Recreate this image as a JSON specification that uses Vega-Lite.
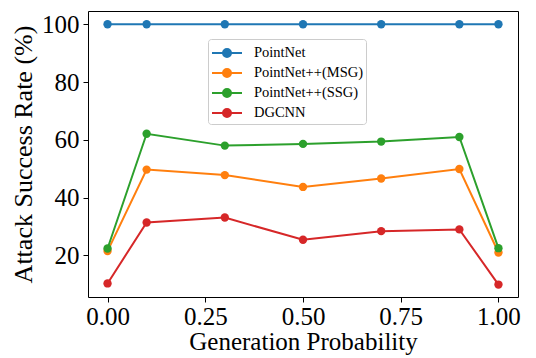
{
  "$schema": "https://vega.github.io/schema/vega-lite/v6.json",
  "width": 430,
  "height": 286,
  "autosize": "none",
  "padding": {"left": 88, "top": 11, "right": 18, "bottom": 61},
  "background": "white",
  "config": {
    "font": "Liberation Serif",
    "view": {"stroke": "black", "strokeWidth": 1},
    "axis": {
      "grid": false,
      "domain": false,
      "tickColor": "black",
      "tickSize": 5,
      "labelColor": "black",
      "titleColor": "black",
      "labelFont": "Liberation Serif",
      "titleFont": "Liberation Serif",
      "labelFontSize": 25,
      "titleFontSize": 25,
      "titleFontWeight": "normal"
    }
  },
  "data": {
    "values": [
      {"p": 0.0, "model": "PointNet", "rate": 100},
      {"p": 0.1, "model": "PointNet", "rate": 100},
      {"p": 0.3, "model": "PointNet", "rate": 100},
      {"p": 0.5, "model": "PointNet", "rate": 100},
      {"p": 0.7, "model": "PointNet", "rate": 100},
      {"p": 0.9, "model": "PointNet", "rate": 100},
      {"p": 1.0, "model": "PointNet", "rate": 100},
      {"p": 0.0, "model": "PointNet++(MSG)", "rate": 21.5},
      {"p": 0.1, "model": "PointNet++(MSG)", "rate": 49.7},
      {"p": 0.3, "model": "PointNet++(MSG)", "rate": 47.8},
      {"p": 0.5, "model": "PointNet++(MSG)", "rate": 43.7},
      {"p": 0.7, "model": "PointNet++(MSG)", "rate": 46.6},
      {"p": 0.9, "model": "PointNet++(MSG)", "rate": 49.9},
      {"p": 1.0, "model": "PointNet++(MSG)", "rate": 21.0},
      {"p": 0.0, "model": "PointNet++(SSG)", "rate": 22.4},
      {"p": 0.1, "model": "PointNet++(SSG)", "rate": 62.1},
      {"p": 0.3, "model": "PointNet++(SSG)", "rate": 58.0},
      {"p": 0.5, "model": "PointNet++(SSG)", "rate": 58.6},
      {"p": 0.7, "model": "PointNet++(SSG)", "rate": 59.4},
      {"p": 0.9, "model": "PointNet++(SSG)", "rate": 61.0},
      {"p": 1.0, "model": "PointNet++(SSG)", "rate": 22.5},
      {"p": 0.0, "model": "DGCNN", "rate": 10.3},
      {"p": 0.1, "model": "DGCNN", "rate": 31.4},
      {"p": 0.3, "model": "DGCNN", "rate": 33.1},
      {"p": 0.5, "model": "DGCNN", "rate": 25.4},
      {"p": 0.7, "model": "DGCNN", "rate": 28.4},
      {"p": 0.9, "model": "DGCNN", "rate": 29.0},
      {"p": 1.0, "model": "DGCNN", "rate": 9.9}
    ]
  },
  "mark": {"type": "line", "strokeWidth": 2, "point": {"filled": true, "size": 70}},
  "encoding": {
    "x": {
      "field": "p", "type": "quantitative",
      "scale": {"domain": [-0.05, 1.05], "nice": false, "zero": false},
      "axis": {"values": [0, 0.25, 0.5, 0.75, 1.0], "format": ".2f", "title": "Generation Probability", "titlePadding": 0, "labelPadding": 2, "labelFont": "Liberation Serif", "titleFont": "Liberation Serif"}
    },
    "y": {
      "field": "rate", "type": "quantitative",
      "scale": {"domain": [5.6, 104.6], "nice": false, "zero": false},
      "axis": {"values": [20, 40, 60, 80, 100], "title": "Attack Success Rate (%)", "titleFontSize": 26, "titlePadding": 5, "labelPadding": 4, "labelFont": "Liberation Serif", "titleFont": "Liberation Serif"}
    },
    "color": {
      "field": "model", "type": "nominal",
      "scale": {
        "domain": ["PointNet", "PointNet++(MSG)", "PointNet++(SSG)", "DGCNN"],
        "range": ["#1f77b4", "#ff7f0e", "#2ca02c", "#d62728"]
      },
      "legend": {
        "title": null,
        "orient": "none",
        "legendX": 120,
        "legendY": 28,
        "labelFont": "Liberation Serif",
        "labelFontSize": 14.5,
        "labelColor": "black",
        "symbolType": "M-1,0L0.1,0M0.9,0L2,0M0.1,0A0.4,0.4 0 1,0 0.9,0A0.4,0.4 0 1,0 0.1,0",
        "symbolSize": 400,
        "symbolStrokeWidth": 2,
        "labelOffset": 21,
        "rowPadding": 1,
        "padding": 3,
        "strokeColor": "#cccccc",
        "fillColor": "white",
        "cornerRadius": 3
      }
    }
  }
}
